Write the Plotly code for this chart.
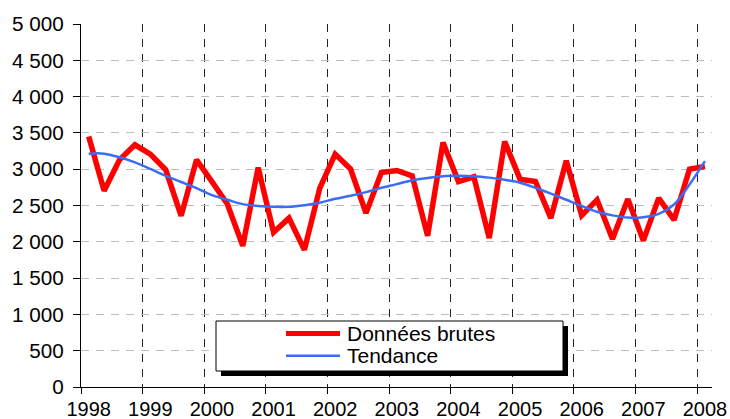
import plotly.graph_objects as go

# Quarterly data 1998 Q1 .. 2008 Q1 (41 points)
start_year = 1998
quarters = [start_year + (i + 0.5) / 4 for i in range(41)]

donnees_brutes = [3451, 2702, 3129, 3336, 3208, 2992, 2357, 3129, 2830, 2520,
                  1944, 3023, 2130, 2326, 1889, 2739, 3208, 3001, 2395, 2954,
                  2982, 2909, 2082, 3368, 2830, 2895, 2050, 3382, 2863, 2830,
                  2326, 3116, 2362, 2578, 2040, 2588, 2017, 2601, 2302, 3001,
                  3037]

tendance = [3214, 3214, 3164, 3094, 3004, 2909, 2824, 2739, 2644, 2579,
            2519, 2494, 2482, 2482, 2504, 2539, 2592, 2634, 2684, 2744,
            2794, 2849, 2879, 2904, 2909, 2904, 2884, 2854, 2814, 2744,
            2664, 2579, 2494, 2414, 2364, 2334, 2339, 2384, 2514, 2790,
            3112]

years = list(range(1998, 2009))
year_labels = [str(y) for y in years]
y_ticks = list(range(0, 5001, 500))
y_labels = [f"{v:,}".replace(",", " ") for v in y_ticks]

legend_labels = ["Données brutes", "Tendance"]
colors = ["#ff0000", "#3b6cf5"]

FONT = "Liberation Sans, Arial, sans-serif"

fig = go.Figure()
fig.add_trace(go.Scatter(x=quarters, y=donnees_brutes, mode="lines",
                         line=dict(color=colors[0], width=5.5),
                         name=legend_labels[0], showlegend=False))
fig.add_trace(go.Scatter(x=quarters, y=tendance, mode="lines",
                         line=dict(color=colors[1], width=2.5, shape="spline"),
                         name=legend_labels[1], showlegend=False))

# plot area geometry in pixels
L, R, T, B = 81, 18, 24, 32
W, H = 730 - L - R, 419 - T - B

def px(x):
    return (x - L) / W

def py(y):
    return (419 - B - y) / H

# Legend frame with shadow
fig.add_shape(type="rect", xref="paper", yref="paper",
              x0=px(221), x1=px(568), y0=py(376), y1=py(326),
              fillcolor="black", line=dict(width=0), layer="above")
fig.add_shape(type="rect", xref="paper", yref="paper",
              x0=px(216), x1=px(563), y0=py(371), y1=py(321),
              fillcolor="white", line=dict(color="black", width=1), layer="above")
for i, (lab, col, lw) in enumerate(zip(legend_labels, colors, [5, 2.5])):
    yy = 333.5 + i * 22.3
    fig.add_shape(type="line", xref="paper", yref="paper",
                  x0=px(286), x1=px(340), y0=py(yy), y1=py(yy),
                  line=dict(color=col, width=lw), layer="above")
    fig.add_annotation(xref="paper", yref="paper", x=px(345), y=py(yy),
                       text=lab, showarrow=False, xanchor="left", yanchor="middle",
                       font=dict(family=FONT, size=21, color="black"))

fig.update_layout(
    width=730, height=419,
    margin=dict(l=L, r=R, t=T, b=B, autoexpand=False),
    paper_bgcolor="white", plot_bgcolor="white",
    font=dict(family=FONT, size=20, color="black"),
    showlegend=False,
)
# labels sit on the first quarter of each year; ticks & grid at year boundaries
fig.update_xaxes(
    range=[1998, 2008.24],
    tickvals=[y + 0.125 for y in years], ticktext=year_labels,
    ticks="outside", ticklen=4, tickcolor="rgba(0,0,0,0)",
    showgrid=False,
    minor=dict(tickvals=years, ticks="outside", ticklen=6, tickcolor="black",
               showgrid=True, gridcolor="#222222", gridwidth=1, griddash="8px,7px"),
    showline=True, linecolor="black", linewidth=1,
    zeroline=False, automargin=False,
    tickfont=dict(size=20),
)
fig.update_yaxes(
    range=[0, 5000], tickvals=y_ticks, ticktext=y_labels,
    showgrid=True, gridcolor="#bdbdbd", gridwidth=1, griddash="8px,7px",
    showline=True, linecolor="black", linewidth=1,
    ticks="outside", ticklen=7, tickcolor="black", zeroline=False,
    ticklabelstandoff=5, automargin=False,
    tickfont=dict(size=20.7),
)

fig.write_html("out.html", config={"displayModeBar": False},
               post_script="document.body.style.margin='0';document.body.style.overflow='hidden';")
